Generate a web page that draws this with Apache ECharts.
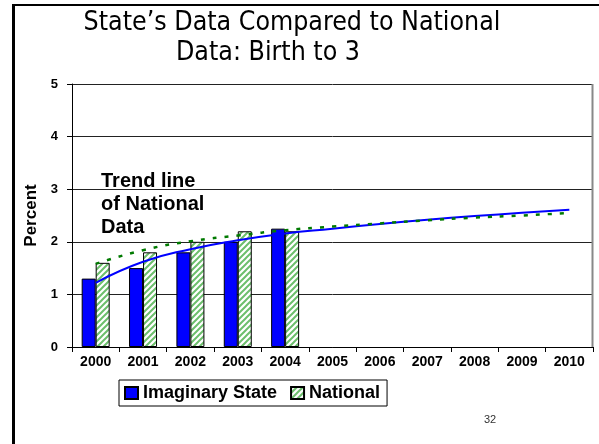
<!DOCTYPE html>
<html>
<head>
<meta charset="utf-8">
<script src="https://cdn.jsdelivr.net/npm/echarts@6/dist/echarts.min.js"></script>
<style>
  html, body { margin: 0; padding: 0; background: #fff; }
  #chart { width: 599px; height: 444px; }
</style>
</head>
<body>
<div id="chart"></div>
<script>
// data
const years = ['2000', '2001', '2002', '2003', '2004', '2005', '2006', '2007', '2008', '2009', '2010'];
const stateValues = [1.3, 1.5, 1.8, 2.0, 2.25];
const nationalValues = [1.6, 1.8, 2.0, 2.2, 2.2];
const stateTrend = [1.22, 1.62, 1.86, 2.03, 2.16, 2.25, 2.34, 2.42, 2.49, 2.55, 2.61];
const nationalTrend = [1.58, 1.84, 2.01, 2.12, 2.22, 2.29, 2.35, 2.41, 2.46, 2.5, 2.55];
const yTicks = [0, 1, 2, 3, 4, 5];

const FONT = "'Liberation Sans', Arial, sans-serif";
const TITLE_FONT = "'DejaVu Sans Condensed', 'Liberation Sans', sans-serif";

// diagonal green hatch for the National bars
const hatch = document.createElement('canvas');
hatch.width = 6;
hatch.height = 6;
const hctx = hatch.getContext('2d');
hctx.fillStyle = '#fff';
hctx.fillRect(0, 0, 6, 6);
hctx.strokeStyle = '#6cbf6c';
hctx.lineWidth = 2;
hctx.beginPath();
hctx.moveTo(-1, 7); hctx.lineTo(7, -1);
hctx.moveTo(-4, 4); hctx.lineTo(4, -4);
hctx.moveTo(2, 10); hctx.lineTo(10, 2);
hctx.stroke();

const chart = echarts.init(document.getElementById('chart'), null, { renderer: 'canvas' });

const option = {
  animation: false,
  backgroundColor: '#fff',
  grid: { left: 72, right: 6, top: 84, bottom: 97 },
  legend: {
    data: ['Imaginary State', 'National'],
    left: 119,
    top: 380,
    orient: 'horizontal',
    icon: 'rect',
    itemWidth: 13,
    itemHeight: 12,
    itemGap: 13,
    padding: [4, 7, 4, 5],
    borderColor: '#000',
    borderWidth: 1,
    textStyle: { fontFamily: FONT, fontSize: 18, fontWeight: 'bold', color: '#000' }
  },
  xAxis: {
    type: 'category',
    data: years,
    boundaryGap: true,
    axisLine: { lineStyle: { color: '#000', width: 1 } },
    axisTick: { show: true, length: 5, lineStyle: { color: '#000' } },
    axisLabel: { fontFamily: FONT, fontSize: 14, fontWeight: 'bold', color: '#000', margin: 8, interval: 0 },
    splitLine: { show: false }
  },
  yAxis: {
    type: 'value',
    min: yTicks[0],
    max: yTicks[yTicks.length - 1],
    interval: 1,
    name: 'Percent',
    nameLocation: 'middle',
    nameRotate: 90,
    nameGap: 30,
    nameTextStyle: { fontFamily: FONT, fontSize: 17, fontWeight: 'bold', color: '#000' },
    axisLine: { show: true, lineStyle: { color: '#000', width: 1 } },
    axisTick: { show: true, length: 5, lineStyle: { color: '#000' } },
    axisLabel: { fontFamily: FONT, fontSize: 13, fontWeight: 'bold', color: '#000', margin: 14 },
    splitLine: { show: true, lineStyle: { color: '#222', width: 1 } }
  },
  series: [
    {
      name: 'Imaginary State',
      type: 'bar',
      data: stateValues,
      barWidth: 14,
      barGap: '0%',
      itemStyle: { color: '#0000ff', borderColor: '#000', borderWidth: 1 },
      z: 2
    },
    {
      name: 'National',
      type: 'bar',
      data: nationalValues,
      barWidth: 14,
      itemStyle: { color: { image: hatch, repeat: 'repeat' }, borderColor: '#000', borderWidth: 1 },
      z: 2
    },
    {
      name: 'State trend',
      type: 'line',
      data: stateTrend,
      smooth: 0.5,
      showSymbol: false,
      lineStyle: { color: '#0000ff', width: 2 },
      z: 3
    },
    {
      name: 'National trend',
      type: 'line',
      data: nationalTrend,
      smooth: 0.5,
      showSymbol: false,
      lineStyle: { color: '#007a00', width: 2.5, type: [4, 8] },
      z: 4
    }
  ],
  graphic: [
    // slide frame
    { type: 'line', shape: { x1: 13.5, y1: 4, x2: 13.5, y2: 444 }, style: { stroke: '#000', lineWidth: 3 } },
    { type: 'line', shape: { x1: 12, y1: 5, x2: 599, y2: 5 }, style: { stroke: '#000', lineWidth: 2 } },
    // plot frame right side
    { type: 'line', shape: { x1: 592.5, y1: 84, x2: 592.5, y2: 347 }, style: { stroke: '#888', lineWidth: 2 }, z: 1 },
    // title
    { type: 'text', x: 292, y: 23, style: { text: 'State\u2019s Data Compared to National', fill: '#000', font: "26.5px " + TITLE_FONT, textAlign: 'center', textVerticalAlign: 'middle' } },
    { type: 'text', x: 268, y: 53, style: { text: 'Data: Birth to 3', fill: '#000', font: "26.5px " + TITLE_FONT, textAlign: 'center', textVerticalAlign: 'middle' } },
    // annotation
    { type: 'text', x: 101, y: 181, z: 10, style: { text: 'Trend line', fill: '#000', font: "bold 20px " + FONT, textAlign: 'left', textVerticalAlign: 'middle' } },
    { type: 'text', x: 101, y: 204, z: 10, style: { text: 'of National', fill: '#000', font: "bold 20px " + FONT, textAlign: 'left', textVerticalAlign: 'middle' } },
    { type: 'text', x: 101, y: 227, z: 10, style: { text: 'Data', fill: '#000', font: "bold 20px " + FONT, textAlign: 'left', textVerticalAlign: 'middle' } },
    // slide number
    { type: 'text', x: 490, y: 420, style: { text: '32', fill: '#333', font: "11px " + FONT, textAlign: 'center', textVerticalAlign: 'middle' } }
  ]
};

chart.setOption(option);
</script>
</body>
</html>
